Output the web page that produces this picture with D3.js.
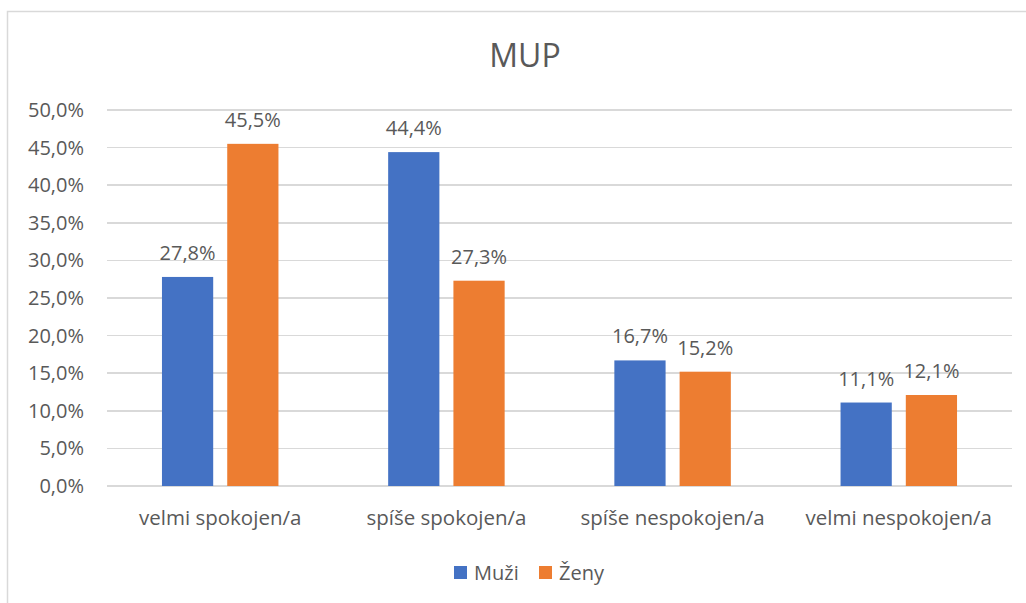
<!doctype html>
<html lang="cs">
<head>
  <meta charset="utf-8">
  <title>MUP</title>
  <style>
body {
  margin: 0;
  background: #fff;
}
text {
  font-family: "Open Sans", sans-serif;
  fill: #595959;
}
.grid line {
  stroke: #d9d9d9;
  stroke-width: 1.5;
  shape-rendering: crispEdges;
}
  </style>
</head>
<body>
  <script src="https://d3js.org/d3.v7.min.js"></script>
  <script>
var categories = ['velmi spokojen/a', 'spíše spokojen/a', 'spíše nespokojen/a', 'velmi nespokojen/a'];
var seriesNames = ['Muži', 'Ženy'];
var muzi = [27.8, 44.4, 16.7, 11.1];
var zeny = [45.5, 27.3, 15.2, 12.1];
var yTicks = [0, 5, 10, 15, 20, 25, 30, 35, 40, 45, 50];
var colors = ['#4472c4', '#ed7d31'];

var W = 1026, H = 603;
var margin = {top: 110, right: 14, bottom: 117, left: 107},
    width = W - margin.left - margin.right,
    height = H - margin.top - margin.bottom;

var fmt = function(v) { return v.toFixed(1).replace('.', ',') + '%'; };

var svg = d3.select("body").append("svg")
    .attr("width", W)
    .attr("height", H);

// chart border
svg.append("rect")
    .attr("x", 7.5).attr("y", 11.5)
    .attr("width", 1040).attr("height", 600)
    .attr("fill", "none")
    .attr("stroke", "#d9d9d9")
    .attr("stroke-width", 1.5);

svg.append("text")
    .attr("x", 525).attr("y", 67)
    .attr("text-anchor", "middle")
    .style("font-size", "32px")
    .text("MUP");

var g = svg.append("g")
    .attr("transform", "translate(" + margin.left + "," + margin.top + ")");

var x0 = d3.scaleBand().domain(categories).range([0, width]).paddingInner(0.485).paddingOuter(0.243);
var x1 = d3.scaleBand().domain(seriesNames).range([0, x0.bandwidth()]).paddingInner(0.215);
var y = d3.scaleLinear().domain([0, 50]).range([height, 0]);

// gridlines
g.append("g").attr("class", "grid")
  .selectAll("line").data(yTicks).enter().append("line")
    .attr("x1", 0).attr("x2", width)
    .attr("y1", function(d) { return y(d); })
    .attr("y2", function(d) { return y(d); });

// y axis labels
var yAxis = d3.axisLeft(y).tickValues(yTicks).tickFormat(fmt).tickSize(0).tickPadding(23);
g.append("g").call(yAxis)
  .call(function(s) { s.select(".domain").remove(); })
  .selectAll("text")
    .style("font-size", "20px")
    .attr("fill", "#595959");

// x axis labels
var xAxis = d3.axisBottom(x0).tickSize(0).tickPadding(24);
g.append("g").attr("transform", "translate(0," + height + ")").call(xAxis)
  .call(function(s) { s.select(".domain").remove(); })
  .selectAll("text")
    .style("font-size", "20.5px")
    .attr("fill", "#595959");

var rows = categories.map(function(c, i) {
  return {cat: c, vals: [{s: seriesNames[0], v: muzi[i], c: 0}, {s: seriesNames[1], v: zeny[i], c: 1}]};
});

var groups = g.selectAll(".cat").data(rows).enter().append("g")
    .attr("transform", function(d) { return "translate(" + x0(d.cat) + ",0)"; });

groups.selectAll("rect").data(function(d) { return d.vals; }).enter().append("rect")
    .attr("x", function(d) { return x1(d.s); })
    .attr("width", x1.bandwidth())
    .attr("y", function(d) { return y(d.v); })
    .attr("height", function(d) { return height - y(d.v); })
    .attr("fill", function(d) { return colors[d.c]; });

groups.selectAll(".lbl").data(function(d) { return d.vals; }).enter().append("text")
    .attr("class", "lbl")
    .attr("x", function(d) { return x1(d.s) + x1.bandwidth() / 2; })
    .attr("y", function(d) { return y(d.v) - 17; })
    .attr("text-anchor", "middle")
    .style("font-size", "20px")
    .text(function(d) { return fmt(d.v); });

// legend
var legend = svg.append("g");
var legX = [454, 539];
seriesNames.forEach(function(n, i) {
  legend.append("rect")
      .attr("x", legX[i]).attr("y", 566)
      .attr("width", 13).attr("height", 13)
      .attr("fill", colors[i]);
  legend.append("text")
      .attr("x", legX[i] + 20).attr("y", 580)
      .style("font-size", "20px")
      .text(n);
});
  </script>
</body>
</html>
